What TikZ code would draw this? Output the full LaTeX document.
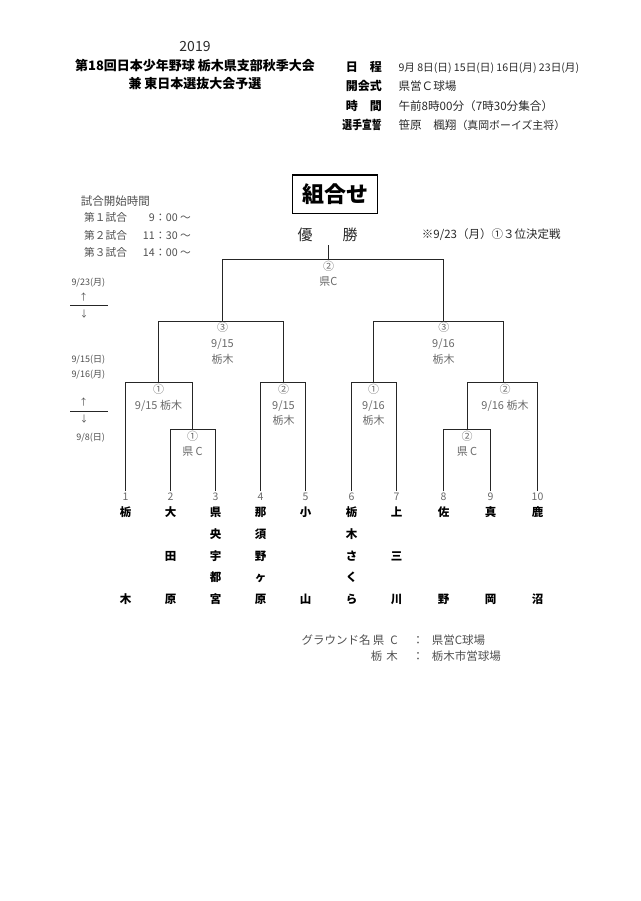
\documentclass[tikz,border=0pt]{standalone}
\usepackage{fontspec}
\setmainfont{Noto Sans CJK JP}
\usepackage{graphicx}
\usetikzlibrary{calc}
\definecolor{ln}{HTML}{262626}
\definecolor{lab}{HTML}{6A6A6A}
\definecolor{txt}{HTML}{2A2A2A}
\definecolor{foot}{HTML}{505050}
\tikzset{
  base/.style={inner sep=0pt, text height=0.8em, text depth=0.12em},
  hdr/.style={base, font=\bfseries\fontsize{13}{13}\selectfont},
  hlab/.style={base, anchor=east, font=\bfseries\fontsize{12}{12}\selectfont},
  hval/.style={base, anchor=west, text=txt, font=\fontsize{11.6}{12}\selectfont},
  sched/.style={base, text=foot, font=\fontsize{10.7}{12}\selectfont},
  datem/.style={base, text=foot, font=\fontsize{9}{10}\selectfont},
  lbl/.style={base, text=lab, font=\fontsize{11}{12}\selectfont},
  num/.style={base, inner sep=1pt, text=lab, font=\fontsize{10.5}{11}\selectfont},
  team/.style={base, font=\bfseries\fontsize{11.5}{12}\selectfont},
  br/.style={draw=ln, line width=1.9pt},
  footer/.style={base, text=foot, font=\fontsize{11.5}{12}\selectfont},
  thin/.style={draw=ln, line width=1.5pt}
}
\begin{document}
\begin{tikzpicture}[x=1pt,y=-1pt]
\useasboundingbox (0,0) rectangle (640,901);
\fill[white] (0,0) rectangle (640,901);

% header
\node[base, font=\fontsize{14}{14}\selectfont, text=txt] (year) at (195,47.7) {2019};
\node[hdr] (ttl1) at (195,66.7) {第18回日本少年野球 栃木県支部秋季大会};
\node[hdr] (ttl2) at (195,85.5) {兼 東日本選抜大会予選};

\node[hlab] (l1) at (382,68.3) {日　程};
\node[hlab] (l2) at (382,87.3) {開会式};
\node[hlab] (l3) at (382,106.7) {時　間};
\node[hlab] (l4) at (382,126) {\scalebox{0.82}[1]{選手宣誓}};
\node[hval, font=\fontsize{10.6}{11}\selectfont] (v1) at (398.3,68.3) {9月 8日(日) 15日(日) 16日(月) 23日(月)};
\node[hval] (v2) at (398.3,87.3) {県営Ｃ球場};
\node[hval] (v3) at (398.3,106.7) {午前8時00分（7時30分集合）};
\node[hval] (v4) at (398.3,126) {笹原　楓翔{\fontsize{10.9}{11}\selectfont（真岡ボーイズ主将）}};

% title box
\node[draw=black, line width=1.3pt, minimum width=85.4pt, minimum height=38.3pt,
      inner sep=0pt, font=\bfseries\fontsize{22}{22}\selectfont] (title) at (335,194.2) {組合せ};

% schedule
\node[base, text=foot, font=\fontsize{11.5}{12}\selectfont, anchor=west] (s0) at (80.7,201.7) {試合開始時間};
\node[sched, anchor=west] (s1a) at (84,218.3) {第１試合};
\node[sched, anchor=east] (s1b) at (155,218.3) {9};
\node[sched, anchor=west] (s1c) at (155,218.3) {：00 ～};
\node[sched, anchor=west] (s2a) at (84,235.7) {第２試合};
\node[sched, anchor=east] (s2b) at (155,235.7) {11};
\node[sched, anchor=west] (s2c) at (155,235.7) {：30 ～};
\node[sched, anchor=west] (s3a) at (84,253.3) {第３試合};
\node[sched, anchor=east] (s3b) at (155,253.3) {14};
\node[sched, anchor=west] (s3c) at (155,253.3) {：00 ～};

% winner and note
\node[base, text=txt, font=\fontsize{15}{15}\selectfont] (yu) at (305,236.7) {優};
\node[base, text=txt, font=\fontsize{15}{15}\selectfont] (sho) at (350,236.7) {勝};
\node[base, anchor=west, text=txt, font=\fontsize{11.5}{12}\selectfont] (note) at (421.7,235) {※9/23（月）①３位決定戦};

% left date markers
\node[datem] (d1) at (88.3,281.7) {9/23(月)};
\node[datem] (a1u) at (83.5,296.7) {↑};
\coordinate (h1a) at (70,305.5);
\coordinate (h1b) at (108.3,305.5);
\draw[thin] (h1a) -- (h1b);
\node[datem] (a1d) at (84,314.3) {↓};
\node[datem] (d2) at (88.3,359.3) {9/15(日)};
\node[datem] (d3) at (88.3,374) {9/16(月)};
\node[datem] (a2u) at (83.5,401.7) {↑};
\coordinate (h2a) at (70,411.5);
\coordinate (h2b) at (108.3,411.5);
\draw[thin] (h2a) -- (h2b);
\node[datem] (a2d) at (84,419) {↓};
\node[datem] (d4) at (90.7,437.3) {9/8(日)};

% team numbers
\foreach \i/\x in {1/125.5,2/170.5,3/215.5,4/260.5,5/305.5,6/351.5,7/396.5,8/443.5,9/490.5,10/537.5}{
  \node[num] (t\i) at (\x,497) {\i};
}

% bracket junctions
\coordinate (j23) at (192.5,429.5);
\coordinate (j1) at (158.5,382.5);
\coordinate (j45) at (283.5,382.5);
\coordinate (jL) at (222.5,321.5);
\coordinate (j67) at (373.5,382.5);
\coordinate (j89) at (467.5,429.5);
\coordinate (j810) at (503.5,382.5);
\coordinate (jR) at (443.5,321.5);
\coordinate (jF) at (328.5,259.5);
\coordinate (win) at (328.5,245);

\draw[br] (t2.north) |- (j23) -| (t3.north);
\draw[br] (t1.north) |- (j1) -| (j23);
\draw[br] (t4.north) |- (j45) -| (t5.north);
\draw[br] (j1) |- (jL) -| (j45);
\draw[br] (t6.north) |- (j67) -| (t7.north);
\draw[br] (t8.north) |- (j89) -| (t9.north);
\draw[br] (j89) |- (j810) -| (t10.north);
\draw[br] (j67) |- (jR) -| (j810);
\draw[br] (jL) |- (jF) -| (jR);
\draw[br] (jF) -- (win);

% bracket labels
\node[lbl] (fA) at (328.5,266.7) {②};
\node[lbl] (fB) at (328.5,281.7) {県C};
\node[lbl] (lsA) at (222.5,328.3) {③};
\node[lbl] (lsB) at (222.5,344) {9/15};
\node[lbl] (lsC) at (222.5,360) {栃木};
\node[lbl] (r1A) at (158.5,390) {①};
\node[lbl] (r1B) at (158.5,406) {9/15 栃木};
\node[lbl] (r23A) at (192.5,436.7) {①};
\node[lbl] (r23B) at (192.5,452.3) {県 C};
\node[lbl] (r45A) at (283.5,390) {②};
\node[lbl] (r45B) at (283.5,406) {9/15};
\node[lbl] (r45C) at (283.5,420.7) {栃木};
\node[lbl] (rsA) at (443.8,328.3) {③};
\node[lbl] (rsB) at (443.5,344) {9/16};
\node[lbl] (rsC) at (443.5,360) {栃木};
\node[lbl] (r67A) at (373.5,390) {①};
\node[lbl] (r67B) at (373.5,406) {9/16};
\node[lbl] (r67C) at (373.5,421) {栃木};
\node[lbl] (r810A) at (505,390) {②};
\node[lbl] (r810B) at (505,406) {9/16 栃木};
\node[lbl] (r89A) at (467,436.7) {②};
\node[lbl] (r89B) at (467,452.3) {県 C};

% team names
\foreach \c/\r/\ch in {
  1/1/栃,1/5/木,
  2/1/大,2/3/田,2/5/原,
  3/1/県,3/2/央,3/3/宇,3/4/都,3/5/宮,
  4/1/那,4/2/須,4/3/野,4/4/ヶ,4/5/原,
  5/1/小,5/5/山,
  6/1/栃,6/2/木,6/3/さ,6/4/く,6/5/ら,
  7/1/上,7/3/三,7/5/川,
  8/1/佐,8/5/野,
  9/1/真,9/5/岡,
  10/1/鹿,10/5/沼}{
  \pgfmathsetmacro{\yy}{513.3+(\r-1)*21.67}
  \node[team] (n\c-\r) at (t\c |- 0,\yy) {\ch};
}

% footer
\node[footer, anchor=west] (g0) at (301.5,640.7) {グラウンド名};
\node[footer, anchor=east] (g1) at (398,640.7) {県\hspace{6pt}C};
\node[footer] (g2) at (418,640.7) {：};
\node[footer, anchor=west] (g3) at (431.7,640.7) {県営C球場};
\node[footer, anchor=east] (g4) at (398,656.7) {栃\hspace{4pt}木};
\node[footer] (g5) at (418,656.7) {：};
\node[footer, anchor=west] (g6) at (431.7,656.7) {栃木市営球場};
\end{tikzpicture}
\end{document}
